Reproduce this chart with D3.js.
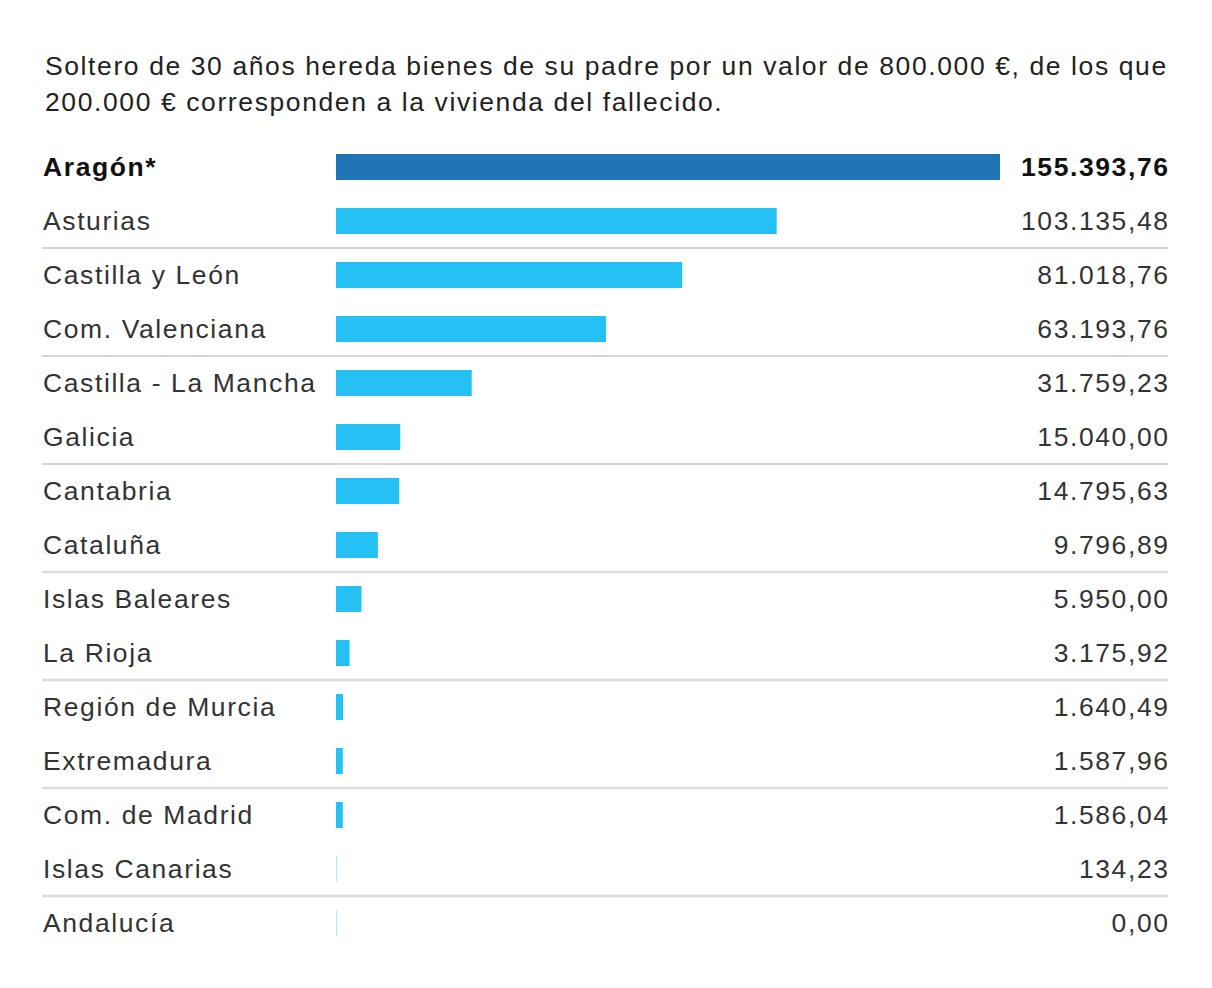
<!DOCTYPE html>
<html><head><meta charset="utf-8">
<script src="https://cdn.jsdelivr.net/npm/d3@7"></script>
<style>
body{margin:0;background:#fff;}
svg text{font-family:"Liberation Sans",Arial,Helvetica,sans-serif;letter-spacing:1.6px;}
</style></head>
<body><svg id="c" width="1212" height="988"></svg>
<script>
const titleLines = ["Soltero de 30 años hereda bienes de su padre por un valor de 800.000 €, de los que",
  "200.000 € corresponden a la vivienda del fallecido."];
const regions = ["Aragón*","Asturias","Castilla y León","Com. Valenciana","Castilla - La Mancha","Galicia","Cantabria","Cataluña","Islas Baleares","La Rioja","Región de Murcia","Extremadura","Com. de Madrid","Islas Canarias","Andalucía"];
const values = [155393.76,103135.48,81018.76,63193.76,31759.23,15040.00,14795.63,9796.89,5950.00,3175.92,1640.49,1587.96,1586.04,134.23,0.00];
const highlight = ["Aragón*"];

const svg = d3.select("#c");
svg.append("rect").attr("width",1212).attr("height",988).attr("fill","#fff");

const t = svg.append("text").attr("x",45).attr("y",75).attr("font-size",26.5).attr("fill","#222");
titleLines.forEach((l,i)=>t.append("tspan").attr("x",45).attr("y",75+i*36).text(l));

const y = d3.scaleBand().domain(regions).range([140,950]).paddingInner(0).paddingOuter(0);
const x = d3.scaleLinear().domain([0,d3.max(values)]).range([336,1000]);
const fmt = d3.formatLocale({decimal:",",thousands:".",grouping:[3],currency:["","€"]}).format(",.2f");

const data = regions.map((r,i)=>({r,v:values[i]}));

data.forEach((d,i)=>{
  if(i%2===1 && i<regions.length-1){
    const yy = y(d.r)+y.bandwidth();
    svg.append("line").attr("x1",42).attr("x2",1168).attr("y1",yy).attr("y2",yy)
      .attr("stroke", i<6?"#c8c8c8":"#dcdcdc").attr("stroke-width", i<6?1.5:2.5);
  }
});

const bh = 26;
svg.selectAll(".bar").data(data).enter().append("rect")
  .attr("x",x(0))
  .attr("y",d=>y(d.r)+y.bandwidth()/2-bh/2)
  .attr("width",d=>Math.max(x(d.v)-x(0),1.2))
  .attr("height",bh)
  .attr("fill",d=>highlight.includes(d.r)?"#2075b4":"#25c1f4")
  .attr("opacity",d=>(x(d.v)-x(0))<1?0.35:1);

svg.selectAll(".lab").data(data).enter().append("text")
  .attr("x",43).attr("y",d=>y(d.r)+y.bandwidth()/2+9)
  .attr("font-size",26.5).attr("fill",d=>highlight.includes(d.r)?"#111":"#333")
  .attr("font-weight",d=>highlight.includes(d.r)?"bold":"normal")
  .text(d=>d.r);

svg.selectAll(".val").data(data).enter().append("text")
  .attr("x",1168+1.6).attr("y",d=>y(d.r)+y.bandwidth()/2+9)
  .attr("text-anchor","end")
  .attr("font-size",26.5).attr("fill",d=>highlight.includes(d.r)?"#111":"#333")
  .attr("font-weight",d=>highlight.includes(d.r)?"bold":"normal")
  .text(d=>fmt(d.v));
</script></body></html>
